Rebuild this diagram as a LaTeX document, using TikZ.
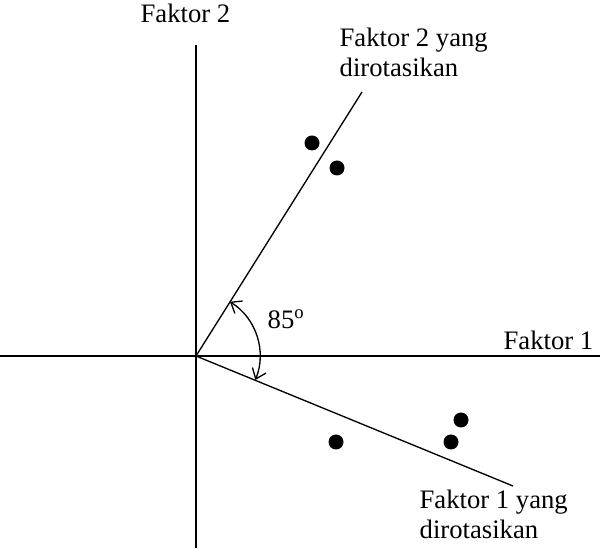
\documentclass[tikz,border=0pt]{standalone}
\usepackage{fontspec}
\setmainfont{Liberation Serif}
\usetikzlibrary{arrows.meta}

\tikzset{every picture/.style={line width=1pt}}
\tikzset{
  lbl/.style={anchor=north west,inner sep=0.75pt,font=\fontsize{20}{23}\selectfont,align=left},
  titik/.style={fill=black,draw=none}
}

\begin{document}
\begin{tikzpicture}[x=0.75pt,y=0.75pt,yscale=-1,xscale=1]
\useasboundingbox (0,0) rectangle (604,552);

%Coordinates
\coordinate (O) at (196,356);
\coordinate (yTop) at (196,45);
\coordinate (yBot) at (196,548);
\coordinate (xLeft) at (0,356);
\coordinate (xRight) at (600,356);
\coordinate (r2) at (362,92);
\coordinate (r1) at (513,486);

%Straight Lines
\draw (yTop) -- (yBot) ;
\draw (xLeft) -- (xRight) ;
\draw (O) -- (r2) ;
\draw (O) -- (r1) ;

%Arc
\draw [{Straight Barb[length=7pt,width=11pt]}-{Straight Barb[length=7pt,width=11pt]}] ([shift={(-58:64)}]O) arc [start angle=-58,end angle=22,radius=64] ;

%Dots
\fill [titik] (312,143) circle [radius=7.5] ;
\fill [titik] (337,168) circle [radius=7.5] ;
\fill [titik] (336,442) circle [radius=7.5] ;
\fill [titik] (451,442) circle [radius=7.5] ;
\fill [titik] (461,420) circle [radius=7.5] ;

% Text Node
\node (f2) [lbl] at (139,2) {Faktor 2};
% Text Node
\node (f2r) [lbl] at (338,26) {Faktor 2 yang\\dirotasikan};
% Text Node
\node (f1) [lbl] at (502,329) {Faktor 1};
% Text Node
\node (f1r) [lbl] at (418,488) {Faktor 1 yang\\dirotasikan};
% Text Node
\node (sudut) [lbl] at (266,308) {85$^{\mathrm{o}}$};

\end{tikzpicture}
\end{document}
